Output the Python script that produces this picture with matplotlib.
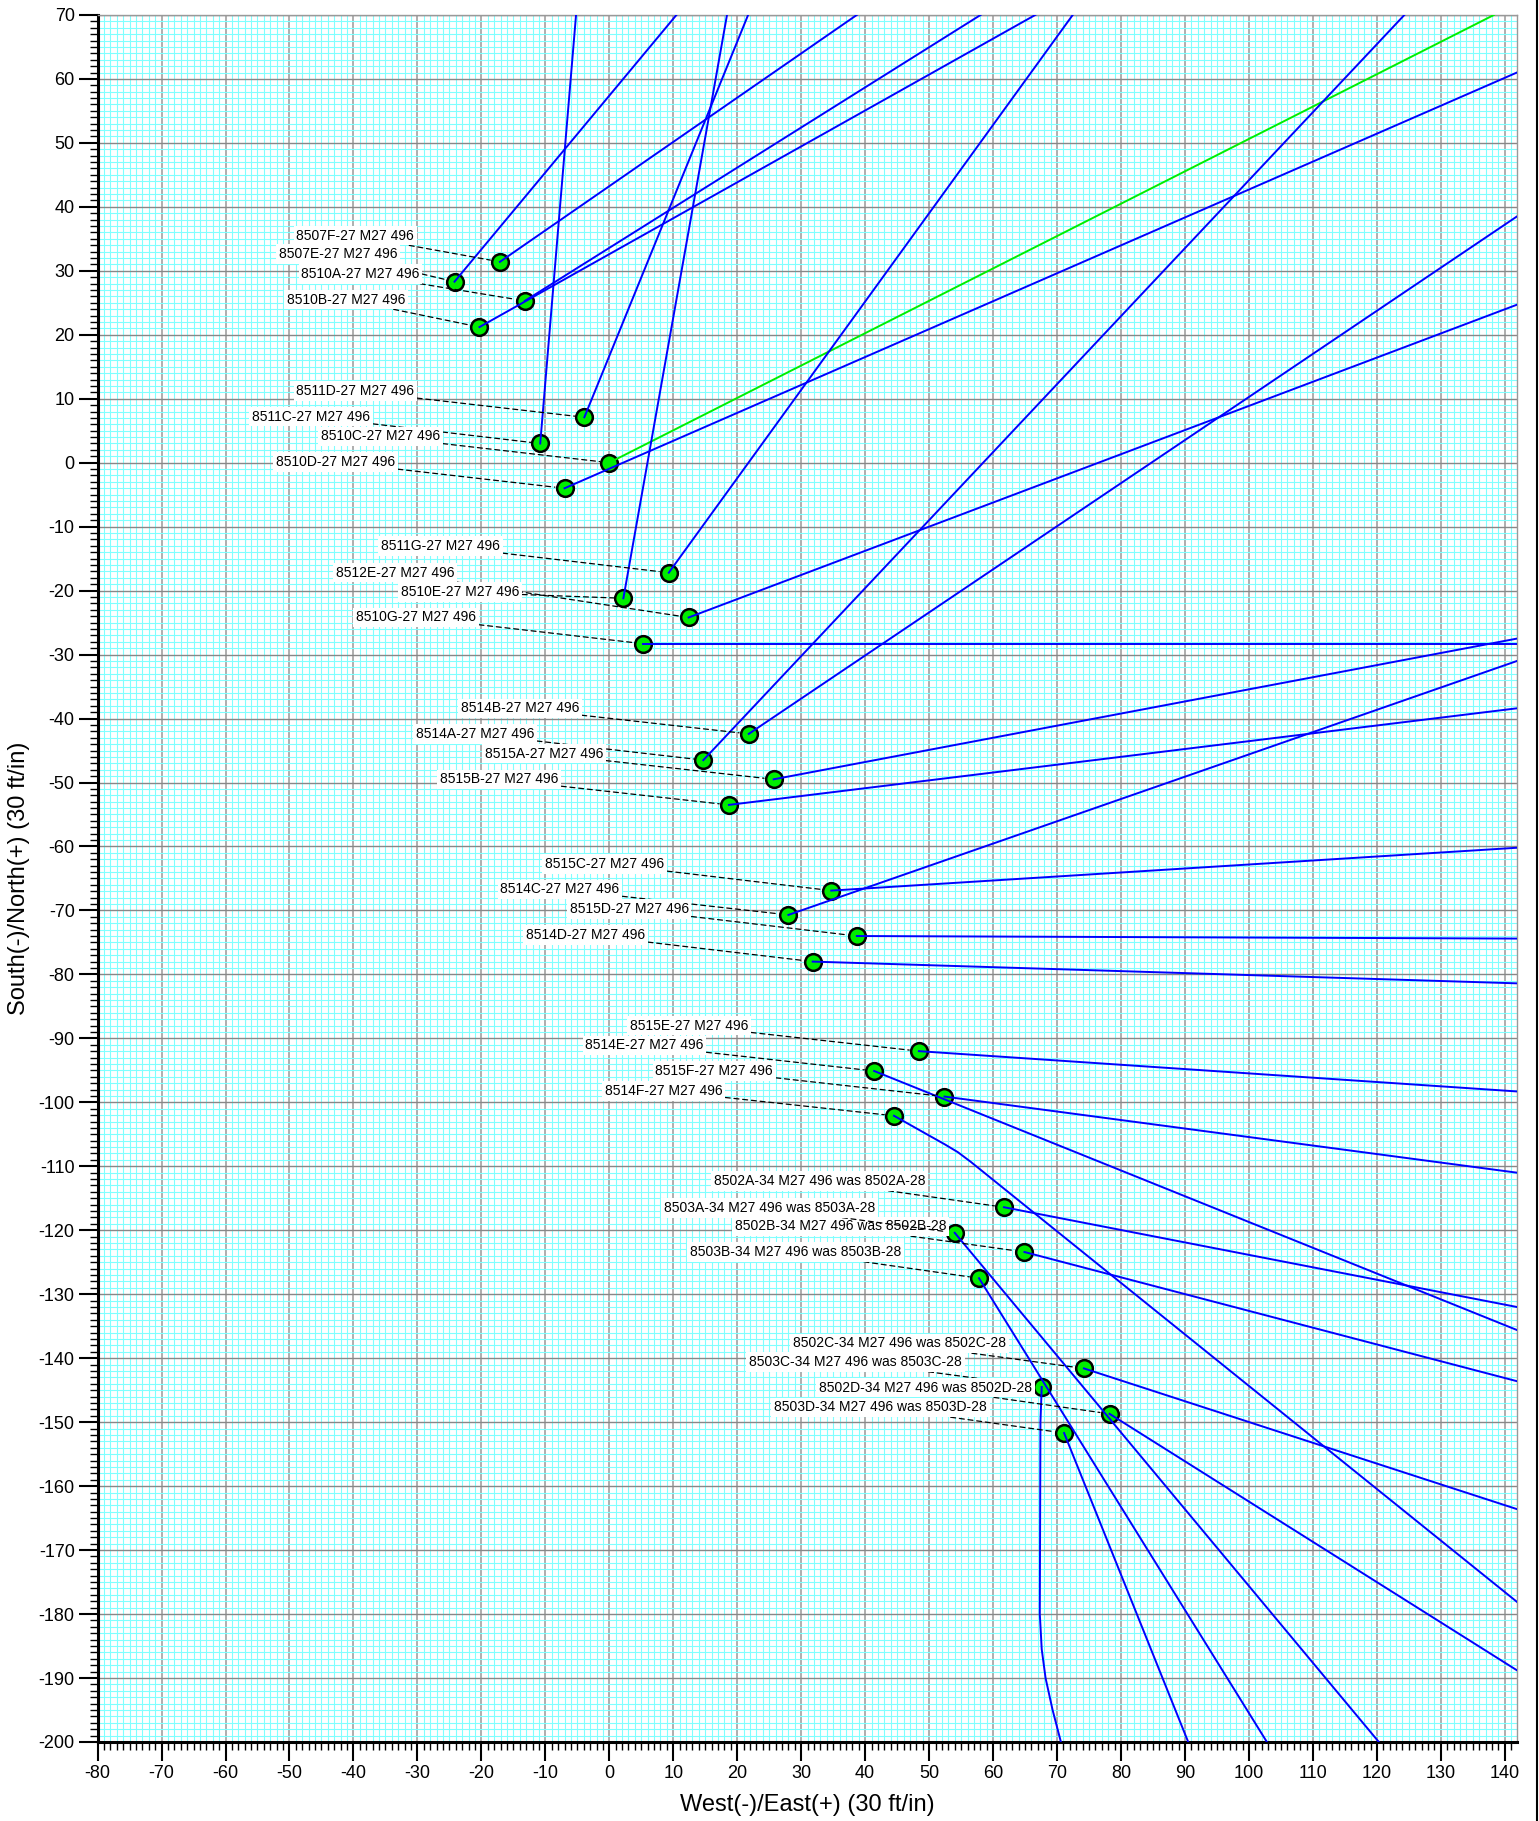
import matplotlib
matplotlib.use('Agg')
import matplotlib.pyplot as plt
from matplotlib.lines import Line2D
import numpy as np

plt.rcParams['font.family'] = ['Liberation Sans', 'DejaVu Sans']
plt.rcParams['axes.unicode_minus'] = False

# Well names (surface markers), grouped as on the plat
names = ['8507F', '8507E', '8510A', '8510B', '8511D', '8511C', '8510C', '8510D',
         '8511G', '8512E', '8510E', '8510G', '8514B', '8514A', '8515A', '8515B',
         '8515C', '8514C', '8515D', '8514D', '8515E', '8514E', '8515F', '8514F',
         '8502A', '8503A', '8502B', '8503B', '8502C', '8503C', '8502D', '8503D']

# Surface locations (30 ft/in units)
surf_x = [-17.1, -24.2, -13.2, -20.3, -3.9, -10.8, 0.0, -7.0,
          9.3, 12.4, 2.2, 5.3, 21.8, 14.7, 25.7, 18.7,
          34.7, 28.0, 38.7, 31.8, 48.4, 41.4, 52.4, 44.5,
          61.7, 54.0, 64.9, 57.8, 74.2, 67.6, 78.2, 71.1]
surf_y = [31.4, 28.3, 25.3, 21.2, 7.1, 3.0, 0.0, -4.0,
          -17.2, -24.2, -21.2, -28.3, -42.4, -46.5, -49.5, -53.5,
          -66.9, -70.7, -74.0, -78.0, -92.0, -95.1, -99.1, -102.1,
          -116.4, -120.4, -123.4, -127.5, -141.6, -144.5, -148.7, -151.7]

# Trajectory points after the surface location
paths = [
    [(38.7, 70)], [(10.5, 70)], [(58.05, 70)], [(66.6, 70)],
    [(21.7, 70)], [(-5.2, 70)], [(138.3, 70)], [(141.9, 61.0)],
    [(72.45, 70)], [(141.9, 24.7)], [(18.4, 70)], [(141.9, -28.3)],
    [(141.9, 38.5)], [(124.3, 70)], [(141.9, -27.5)], [(141.9, -38.4)],
    [(141.9, -60.2)], [(141.9, -31.0)], [(141.9, -74.4)], [(141.9, -81.4)],
    [(141.9, -98.3)], [(141.9, -135.6)], [(141.9, -111.0)],
    [(52.5, -106.6), (54.5, -107.8), (56.5, -109.3), (141.9, -178.1)],
    [(141.9, -132.0)], [(120.3, -200)], [(141.9, -143.6)], [(102.8, -200)],
    [(141.9, -163.6)],
    [(67.4, -150), (67.3, -180), (67.6, -185.5), (68.2, -190), (69.3, -195), (70.6, -200)],
    [(141.9, -188.8)], [(90.5, -200)],
]

# Label text and where each label sits
labels = [f'{n}-27 M27 496' for n in names[:24]] + \
         [f'{n}-34 M27 496 was {n}-28' for n in names[24:]]
label_x = [-39.7, -42.4, -38.9, -41.1, -39.7, -46.6, -35.8, -42.8,
           -26.4, -33.5, -23.3, -30.2, -14.0, -21.0, -10.2, -17.2,
           -0.7, -7.7, 3.1, -3.7, 12.5, 5.5, 16.4, 8.5,
           32.9, 25.1, 36.2, 29.1, 45.4, 38.5, 49.4, 42.4]
label_y = [35.5, 32.6, 29.5, 25.5, 11.2, 7.2, 4.1, 0.1,
           -13.0, -17.2, -20.25, -24.2, -38.4, -42.4, -45.5, -49.5,
           -62.7, -66.7, -69.8, -73.8, -88.0, -91.1, -95.1, -98.2,
           -112.3, -116.5, -119.4, -123.4, -137.7, -140.6, -144.6, -147.7]

fig = plt.figure(figsize=(15.39, 18.21), dpi=100)
ax = fig.add_axes([0.0634, 0.0434, 0.9223, 0.9484])

ax.set_xlim(-80, 141.9)
ax.set_ylim(-200, 70)
ax.set_xticks(np.arange(-80, 141, 10))
ax.set_xticks(np.arange(-80, 142, 1), minor=True)
ax.set_yticks(np.arange(-200, 71, 10))
ax.set_yticks(np.arange(-200, 71, 1), minor=True)

# graph paper
ax.grid(which='minor', color='#80ffff', lw=0.8)
ax.xaxis.grid(which='major', color='#a8a8a8', lw=1.3)
ax.yaxis.grid(which='major', color='#888888', lw=1.0)
ax.set_axisbelow(True)

ax.tick_params(which='major', direction='out', length=13.5, width=1.5,
               labelsize=13, pad=3)
ax.tick_params(which='minor', direction='out', length=6, width=1)
for s in ['left', 'bottom']:
    ax.spines[s].set_linewidth(2.2)
    ax.spines[s].set_color('black')
for s in ['top', 'right']:
    ax.spines[s].set_linewidth(1.0)
    ax.spines[s].set_color('#999999')

# surface markers
ax.plot(surf_x, surf_y, 'o', ms=12, mfc='#00ee00', mec='black', mew=1.8, zorder=3)

# well paths
for i, p in enumerate(paths):
    xs = [surf_x[i]] + [q[0] for q in p]
    ys = [surf_y[i]] + [q[1] for q in p]
    col = '#00ee00' if names[i] == '8510C' else '#0000ff'
    ax.plot(xs, ys, color=col, lw=1.4, zorder=4)

# labels with dashed leaders
order = list(range(len(names)))
order.remove(25)
order.insert(26, 25)
for i in order:
    ax.annotate(labels[i], xy=(surf_x[i], surf_y[i]), xytext=(label_x[i], label_y[i]),
                textcoords='data', ha='center', va='center', fontsize=10,
                bbox=dict(boxstyle='square,pad=0.2', fc='white', ec='none'),
                arrowprops=dict(arrowstyle='-', color='black', lw=0.9,
                                linestyle=(0, (4, 3)), shrinkA=0, shrinkB=7),
                zorder=5)

ax.set_xlabel('West(-)/East(+) (30 ft/in)', fontsize=17, labelpad=9)
ax.set_ylabel('South(-)/North(+) (30 ft/in)', fontsize=17, labelpad=6)

fig.add_artist(Line2D([0.9988, 0.9988], [0, 1], transform=fig.transFigure,
                      color='black', lw=1.5))

fig.savefig('out.png', dpi=100)
